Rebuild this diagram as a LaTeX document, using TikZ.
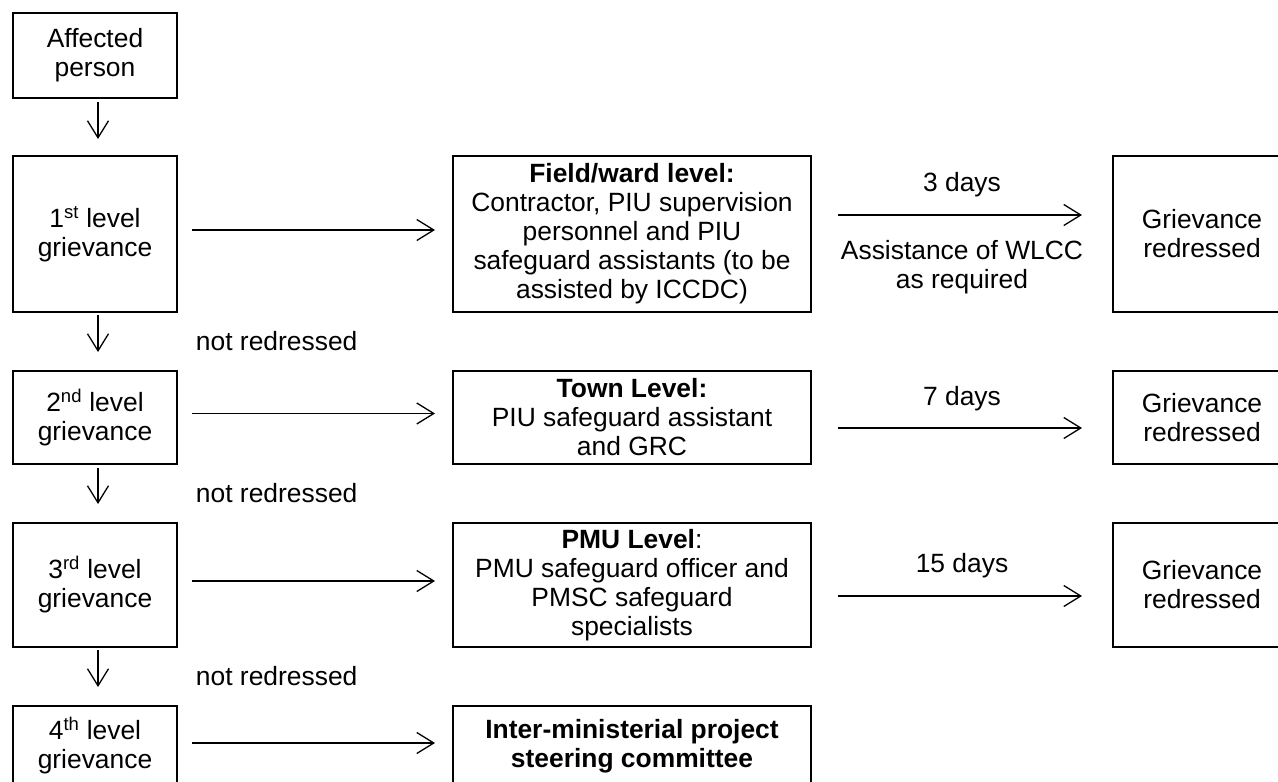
\documentclass[tikz,border=0pt]{standalone}
\usepackage{fontspec}
\setmainfont{Liberation Sans}
\usetikzlibrary{arrows.meta}

\begin{document}
\begin{tikzpicture} [x = 1pt, y = -1pt, >={Straight Barb[length=17pt, width=21pt]},
		font = \fontsize{26.4}{29}\selectfont,
		box/.style = {draw, line width = 2pt, align = center, inner sep = 0pt},
		note/.style = {align = center},
		flow/.style = {->, line width = 1.3pt}]
		\path [use as bounding box, clip] (0,0) rectangle (1278,782);
		%\draw [thin, help lines, step = 50] (0,0) grid (1278,782);
		% left column
		\node [box, minimum width = 164pt, minimum height = 85pt] (affected) at (95,55.5) {Affected\\person};
		\node [box, minimum width = 164pt, minimum height = 156pt] (lvl1) at (95,234) {1\textsuperscript{st} level\\grievance};
		\node [box, minimum width = 164pt, minimum height = 93pt] (lvl2) at (95,417.5) {2\textsuperscript{nd} level\\grievance};
		\node [box, minimum width = 164pt, minimum height = 124pt] (lvl3) at (95,585) {3\textsuperscript{rd} level\\grievance};
		\node [box, minimum width = 164pt, minimum height = 80pt] (lvl4) at (95,746) {4\textsuperscript{th} level\\grievance};
		% middle column
		\node [box, minimum width = 358pt, minimum height = 156pt] (body1) at (632,234) {\textbf{Field/ward level:}\\Contractor, PIU supervision\\personnel and PIU\\safeguard assistants (to be\\assisted by ICCDC)};
		\node [box, minimum width = 358pt, minimum height = 93pt] (body2) at (632,417.5) {\textbf{Town Level:}\\PIU safeguard assistant\\and GRC};
		\node [box, minimum width = 358pt, minimum height = 124pt] (body3) at (632,585) {\textbf{PMU Level}:\\PMU safeguard officer and\\PMSC safeguard\\specialists};
		\node [box, minimum width = 358pt, minimum height = 80pt] (body4) at (632,746) {\textbf{Inter-ministerial project}\\\textbf{steering committee}};
		% right column
		\node [box, minimum width = 178pt, minimum height = 156pt] (redr1) at (1202,234) {Grievance\\redressed};
		\node [box, minimum width = 178pt, minimum height = 93pt] (redr2) at (1202,417.5) {Grievance\\redressed};
		\node [box, minimum width = 178pt, minimum height = 124pt] (redr3) at (1202,585) {Grievance\\redressed};
		% down the levels
		\draw [flow, shorten < = 3pt, shorten > = 16pt] ([xshift = 3pt]affected.south) -- ([xshift = 3pt]lvl1.north);
		\draw [flow, shorten < = 2pt, shorten > = 18pt] ([xshift = 3pt]lvl1.south) -- ([xshift = 3pt]lvl2.north) node [pos = 0.5, anchor = west, xshift = 94pt] {not redressed};
		\draw [flow, shorten < = 3pt, shorten > = 18pt] ([xshift = 3pt]lvl2.south) -- ([xshift = 3pt]lvl3.north) node [pos = 0.5, anchor = west, xshift = 94pt] {not redressed};
		\draw [flow, shorten < = 2pt, shorten > = 18pt] ([xshift = 3pt]lvl3.south) -- ([xshift = 3pt]lvl4.north) node [pos = 0.5, anchor = west, xshift = 94pt] {not redressed};
		% across
		\draw [flow, shorten < = 14pt, shorten > = 17pt] ([yshift = 4pt]lvl1.east) -- ([yshift = 4pt]body1.west);
		\draw [flow, shorten < = 14pt, shorten > = 17pt] ([yshift = 4pt]lvl2.east) -- ([yshift = 4pt]body2.west);
		\draw [flow, shorten < = 14pt, shorten > = 17pt] ([yshift = 4pt]lvl3.east) -- ([yshift = 4pt]body3.west);
		\draw [flow, shorten < = 14pt, shorten > = 17pt] ([yshift = 3pt]lvl4.east) -- ([yshift = 3pt]body4.west);
		\draw [flow, shorten < = 26pt, shorten > = 30pt] ([yshift = 19pt]body1.east) -- ([yshift = 19pt]redr1.west)
			node [pos = 0.5, yshift = 30pt] {3 days}
			node [pos = 0.5, yshift = -52pt, note] {Assistance of WLCC\\as required};
		\draw [flow, shorten < = 26pt, shorten > = 30pt] ([yshift = -10.5pt]body2.east) -- ([yshift = -10.5pt]redr2.west)
			node [pos = 0.5, yshift = 29pt] {7 days};
		\draw [flow, shorten < = 26pt, shorten > = 30pt] ([yshift = -11pt]body3.east) -- ([yshift = -11pt]redr3.west)
			node [pos = 0.5, yshift = 30pt] {15 days};
	\end{tikzpicture}
\end{document}
